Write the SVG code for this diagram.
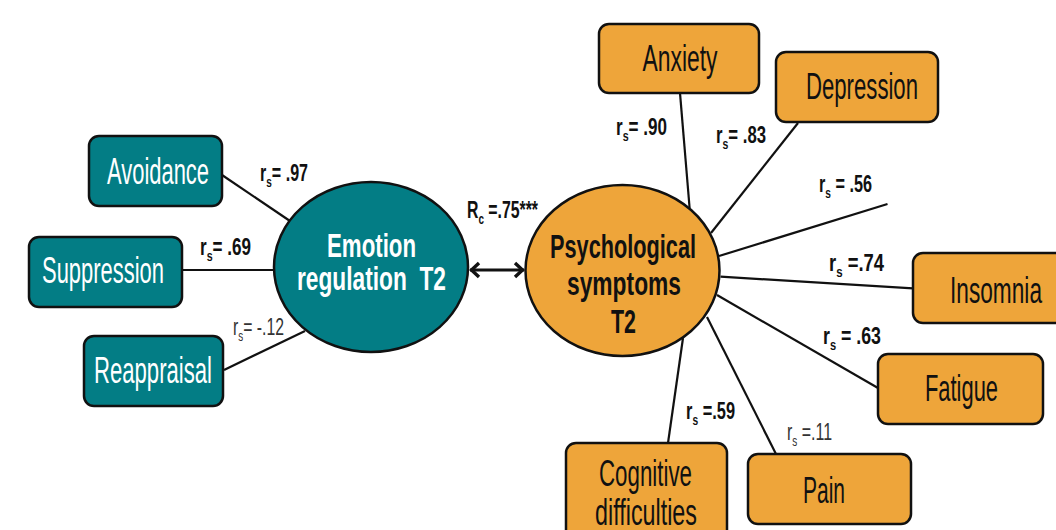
<svg xmlns="http://www.w3.org/2000/svg" width="1056" height="530" viewBox="0 0 1056 530">
<defs>
<style>
.teal{fill:#037d85;stroke:#111;stroke-width:2.5}
.orange{fill:#eea53a;stroke:#111;stroke-width:2.5}
.t{font-family:"Liberation Sans Narrow","Liberation Sans",Arial,sans-serif;font-size:36px}
.tw{fill:#fff}
.tb{fill:#111}
.bold{font-weight:bold;font-size:34px}
.lab{font-family:"Liberation Sans Narrow","Liberation Sans",Arial,sans-serif;font-size:24px;font-weight:bold;fill:#111}
.light{font-weight:normal;fill:#333}
.sub{font-size:15px}
.conn line{stroke:#111;stroke-width:2.2}
</style>
<marker id="ah" viewBox="-13 -9 15 18" refX="0" refY="0" markerWidth="15" markerHeight="18" markerUnits="userSpaceOnUse" orient="auto-start-reverse">
<path d="M-9 -7 L-1.5 0 L-9 7" fill="none" stroke="#111" stroke-width="3.4"/>
</marker>
</defs>
<rect width="1056" height="530" fill="#fff"/>
<g class="conn" id="connectors">
<line x1="222" y1="175" x2="290" y2="221"/>
<line x1="182" y1="270" x2="274" y2="270"/>
<line x1="224" y1="370" x2="305" y2="331"/>
<line x1="680" y1="93" x2="689.6" y2="208"/>
<line x1="798" y1="123" x2="711" y2="233"/>
<line x1="719" y1="256" x2="887.5" y2="204"/>
<line x1="720.5" y1="276.7" x2="913" y2="288.3"/>
<line x1="717" y1="295" x2="878" y2="388"/>
<line x1="707" y1="317" x2="776" y2="454"/>
<line x1="683" y1="338" x2="668" y2="443"/>
<line x1="470" y1="270" x2="524" y2="270" marker-start="url(#ah)" marker-end="url(#ah)" style="stroke-width:3"/>
</g>
<g id="labels">
<text class="lab" x="260" y="181" textLength="48" lengthAdjust="spacingAndGlyphs">r<tspan class="sub" dy="6">s</tspan><tspan dy="-6">= .97</tspan></text>
<text class="lab" x="200" y="255" textLength="51" lengthAdjust="spacingAndGlyphs">r<tspan class="sub" dy="6">s</tspan><tspan dy="-6">= .69</tspan></text>
<text class="lab light" x="233" y="335" textLength="51" lengthAdjust="spacingAndGlyphs">r<tspan class="sub" dy="6">s</tspan><tspan dy="-6">= -.12</tspan></text>
<text class="lab" x="467" y="218" textLength="71" lengthAdjust="spacingAndGlyphs">R<tspan class="sub" dy="6">c</tspan><tspan dy="-6"> =.75***</tspan></text>
<text class="lab" x="616" y="135" textLength="51" lengthAdjust="spacingAndGlyphs">r<tspan class="sub" dy="6">s</tspan><tspan dy="-6">= .90</tspan></text>
<text class="lab" x="716" y="143" textLength="50" lengthAdjust="spacingAndGlyphs">r<tspan class="sub" dy="6">s</tspan><tspan dy="-6">= .83</tspan></text>
<text class="lab" x="819" y="192" textLength="53" lengthAdjust="spacingAndGlyphs">r<tspan class="sub" dy="6">s</tspan><tspan dy="-6"> = .56</tspan></text>
<text class="lab" x="829" y="271" textLength="55" lengthAdjust="spacingAndGlyphs">r<tspan class="sub" dy="6">s</tspan><tspan dy="-6"> =.74</tspan></text>
<text class="lab" x="823" y="344" textLength="58" lengthAdjust="spacingAndGlyphs">r<tspan class="sub" dy="6">s</tspan><tspan dy="-6"> =  .63</tspan></text>
<text class="lab" x="686" y="419" textLength="49" lengthAdjust="spacingAndGlyphs">r<tspan class="sub" dy="6">s</tspan><tspan dy="-6"> =.59</tspan></text>
<text class="lab light" x="787" y="440" textLength="45" lengthAdjust="spacingAndGlyphs">r<tspan class="sub" dy="6">s</tspan><tspan dy="-6"> =.11</tspan></text>
</g>
<g id="avoidance"><rect class="teal" x="89" y="136" width="133" height="70" rx="10"/><text class="t tw" x="107" y="184" textLength="102" lengthAdjust="spacingAndGlyphs">Avoidance</text></g>
<g id="suppression"><rect class="teal" x="29" y="237" width="153" height="70" rx="10"/><text class="t tw" x="42" y="283" textLength="122" lengthAdjust="spacingAndGlyphs">Suppression</text></g>
<g id="reappraisal"><rect class="teal" x="84" y="336" width="139" height="70" rx="10"/><text class="t tw" x="94" y="383" textLength="118" lengthAdjust="spacingAndGlyphs">Reappraisal</text></g>
<g id="emotion-regulation"><ellipse class="teal" cx="371" cy="267" rx="97" ry="85"/><text class="t tw bold" x="327" y="257" textLength="89" lengthAdjust="spacingAndGlyphs">Emotion</text><text class="t tw bold" x="297" y="290" textLength="149" lengthAdjust="spacingAndGlyphs">regulation&#160; T2</text></g>
<g id="psychological-symptoms"><ellipse class="orange" cx="622.5" cy="270.5" rx="97" ry="85.5"/><text class="t tb bold" x="550" y="258" textLength="146" lengthAdjust="spacingAndGlyphs">Psychological</text><text class="t tb bold" x="567" y="295" textLength="114" lengthAdjust="spacingAndGlyphs">symptoms</text><text class="t tb bold" x="611" y="333" textLength="25" lengthAdjust="spacingAndGlyphs">T2</text></g>
<g id="anxiety"><rect class="orange" x="599" y="24" width="160" height="69" rx="10"/><text class="t tb" x="642.5" y="71" textLength="75" lengthAdjust="spacingAndGlyphs">Anxiety</text></g>
<g id="depression"><rect class="orange" x="776" y="52" width="162" height="70" rx="10"/><text class="t tb" x="806" y="99" textLength="112" lengthAdjust="spacingAndGlyphs">Depression</text></g>
<g id="insomnia"><rect class="orange" x="913" y="253" width="160" height="70" rx="10"/><text class="t tb" x="950" y="303" textLength="92" lengthAdjust="spacingAndGlyphs">Insomnia</text></g>
<g id="fatigue"><rect class="orange" x="878" y="354" width="165" height="70" rx="10"/><text class="t tb" x="925" y="401" textLength="73" lengthAdjust="spacingAndGlyphs">Fatigue</text></g>
<g id="pain"><rect class="orange" x="748" y="454" width="163" height="70" rx="10"/><text class="t tb" x="803" y="503" textLength="42" lengthAdjust="spacingAndGlyphs">Pain</text></g>
<g id="cognitive-difficulties"><rect class="orange" x="566" y="443" width="161" height="100" rx="10"/><text class="t tb" x="599" y="486" textLength="93" lengthAdjust="spacingAndGlyphs">Cognitive</text><text class="t tb" x="595" y="525" textLength="102" lengthAdjust="spacingAndGlyphs">difficulties</text></g>
</svg>
